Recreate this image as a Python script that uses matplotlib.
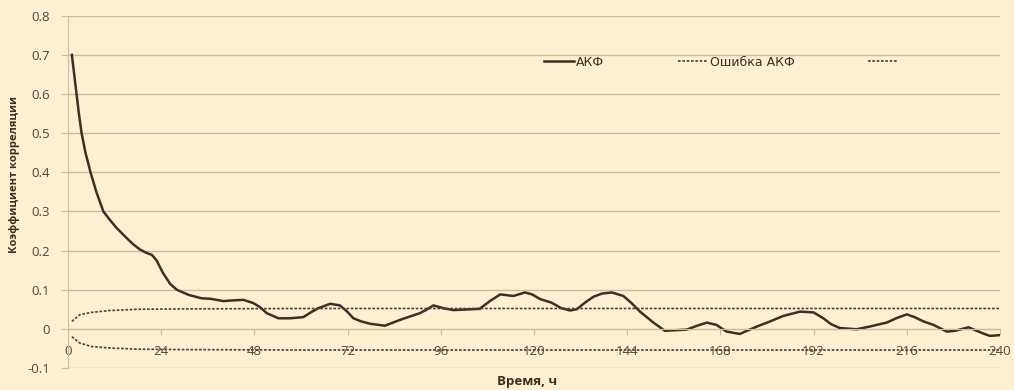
import matplotlib
matplotlib.use("Agg")
import matplotlib.pyplot as plt
from matplotlib.lines import Line2D
from matplotlib.ticker import MultipleLocator, FormatStrFormatter, FuncFormatter

# lag, h
hours = [1, 1.6, 2.2, 2.8, 3.5, 4.5, 5.8, 7.3, 9.1, 10.8, 12.5, 15.1, 16.8,
         18.5, 20, 21.6, 22.8, 24.5, 26.3, 28, 31, 34.4, 36.6, 40, 43, 45.2,
         47.7, 49.5, 51.2, 54.2, 57.2, 60.6, 62.5, 64.5, 67.5, 70, 71.8, 73.5,
         75.5, 77.8, 81.6, 85.5, 90.6, 92.5, 94.1, 97, 99.2, 106, 108.5, 111.3,
         114.7, 117.7, 119.5, 121.6, 124.5, 127, 129.3, 131, 133, 135.3, 137.5,
         140, 143, 145, 147.3, 150.5, 153.7, 159.3, 162, 164.5, 167, 169.6, 173,
         177.4, 180.8, 184.2, 188.5, 192, 194.5, 196.5, 198.8, 203.1, 206.5,
         210.8, 213.5, 216, 218, 220.3, 222.9, 226.3, 228.4, 231.9, 234, 236,
         237.4, 240]
acf = [0.700, 0.650, 0.600, 0.550, 0.500, 0.450, 0.400, 0.350, 0.300, 0.278,
       0.258, 0.232, 0.216, 0.203, 0.195, 0.189, 0.175, 0.142, 0.115, 0.100,
       0.087, 0.078, 0.077, 0.071, 0.073, 0.074, 0.066, 0.055, 0.040, 0.027,
       0.027, 0.030, 0.042, 0.053, 0.064, 0.060, 0.045, 0.027, 0.019, 0.013,
       0.008, 0.023, 0.040, 0.050, 0.060, 0.052, 0.048, 0.051, 0.070, 0.088,
       0.084, 0.093, 0.088, 0.076, 0.067, 0.053, 0.047, 0.050, 0.066, 0.082,
       0.090, 0.093, 0.084, 0.067, 0.044, 0.018, -0.005, -0.002, 0.008, 0.016,
       0.010, -0.007, -0.013, 0.006, 0.019, 0.033, 0.044, 0.042, 0.027, 0.012,
       0.002, -0.001, 0.006, 0.016, 0.028, 0.037, 0.030, 0.019, 0.010, -0.007,
       -0.005, 0.004, -0.005, -0.013, -0.018, -0.016]

# confidence band of the ACF
err_hours = [1, 3, 6, 11, 18, 30, 60, 120, 240]
err_upper = [0.019, 0.036, 0.042, 0.047, 0.050, 0.051, 0.052, 0.052, 0.052]
err_lower = [-0.020, -0.036, -0.045, -0.049, -0.052, -0.053, -0.054, -0.054, -0.054]

bg = '#fdf0d1'
grid_c = '#c9bd9f'
line_c = '#3a3128'
err_c = '#4a4238'
tick_c = '#4f4839'
label_c = '#3a3020'
dots = (0, (1.6, 1.0))

fig = plt.figure(figsize=(10.14, 3.9), dpi=100, facecolor=bg)
ax = fig.add_axes([68/1014, 22/390, 932/1014, 352.3/390], facecolor=bg)

ax.plot(hours, acf, color=line_c, lw=1.8, solid_joinstyle='round')
ax.plot(err_hours, err_upper, color=err_c, lw=1.2, linestyle=dots)
ax.plot(err_hours, err_lower, color=err_c, lw=1.2, linestyle=dots)

ax.set_xlim(0, 240)
ax.set_ylim(-0.1, 0.8)
ax.xaxis.set_major_locator(MultipleLocator(24))
ax.yaxis.set_major_locator(MultipleLocator(0.1))
ax.xaxis.set_major_formatter(FormatStrFormatter('%.0f'))
ax.yaxis.set_major_formatter(FuncFormatter(
    lambda v, p: '0' if abs(v) < 1e-9 else ('%.1f' % v)))

ax.grid(axis='y', color=grid_c, lw=1.0)
ax.set_axisbelow(True)
for s in ('top', 'right'):
    ax.spines[s].set_visible(False)
ax.spines['left'].set_color(grid_c)
ax.spines['bottom'].set_color(grid_c)
ax.spines['bottom'].set_position(('data', 0))

fnt = ['Open Sans', 'DejaVu Sans']
ax.tick_params(axis='y', length=5, color=grid_c, pad=8, labelsize=9.5,
               labelcolor=tick_c)
ax.tick_params(axis='x', length=4, color=grid_c, pad=7.5, labelsize=9.5,
               labelcolor=tick_c)
for lab in ax.get_xticklabels() + ax.get_yticklabels():
    lab.set_family(fnt)

fig.text(15/1014, 1 - 175/390, 'Коэффициент корреляции', rotation=90,
         ha='center', va='center', fontsize=8, fontweight='bold',
         color=label_c, family=fnt)
fig.text(527/1014, 1 - 382/390, 'Время, ч', ha='center', va='center',
         fontsize=9.5, fontweight='bold', color=label_c, family=fnt)

handles = [Line2D([], [], color=line_c, lw=1.8),
           Line2D([], [], color=err_c, lw=1.2, linestyle=dots),
           Line2D([], [], color=err_c, lw=1.2, linestyle=dots)]
fig.legend(handles, ['АКФ', 'Ошибка АКФ', ''], ncol=3, frameon=False,
           loc='center left', bbox_to_anchor=(538/1014, 1 - 62/390),
           borderpad=0, handlelength=2.4, handletextpad=0.15,
           columnspacing=5.9, prop={'family': 'DejaVu Sans', 'size': 9},
           labelcolor=label_c)

fig.savefig('out.png', dpi=100, facecolor=bg)
